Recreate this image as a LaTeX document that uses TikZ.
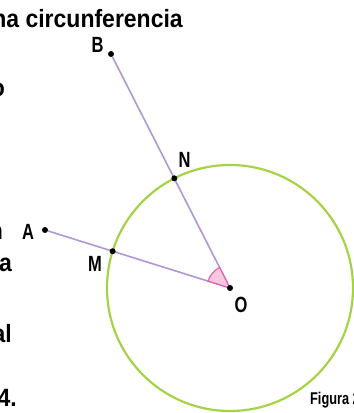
\documentclass[tikz,border=0pt]{standalone}
\usepackage{fontspec}
\setmainfont{Liberation Sans}
\newfontfamily\narrowfont[FakeStretch=0.75]{Liberation Sans}
\newfontfamily\pagefont[FakeStretch=0.92]{Liberation Sans}
\usetikzlibrary{positioning,calc}
\definecolor{rayline}{RGB}{175,150,215}
\definecolor{ringgreen}{RGB}{165,210,70}
\definecolor{anglepink}{RGB}{232,90,170}
\definecolor{anglefill}{RGB}{248,200,225}
\pgfdeclarelayer{back}
\pgfsetlayers{back,main}

\begin{document}
\begin{tikzpicture}[x=1pt, y=1pt,
    dot/.style={circle, fill=black, inner sep=0pt, minimum size=6pt},
    lbl/.style={inner sep=0pt, font=\narrowfont\bfseries\fontsize{22}{26}\selectfont},
    para/.style={inner sep=0pt, font=\pagefont\bfseries\fontsize{25}{29}\selectfont},
    figcap/.style={inner sep=0pt, font=\narrowfont\bfseries\fontsize{17}{20}\selectfont},
    ray/.style={rayline, line width=1.6pt},
    ring/.style={ringgreen, line width=2.2pt},
    anglemark/.style={anglepink, fill=anglefill, line width=1.1pt}]
  \useasboundingbox (0,0) rectangle (354,413);
  \clip (0,0) rectangle (354,413);

  % points
  \node[dot] (O) at (230,125) {};
  \node[dot] (B) at (111,359) {};
  \node[dot] (A) at (45,183) {};
  \node[dot] (N) at ($(O)+(116.9:123pt)$) {};
  \node[dot] (M) at ($(O)+(162.6:123pt)$) {};

  \node[lbl] (Blbl) at (97.5,368.5) {B};
  \node[lbl] (Nlbl) at (184.5,253.5) {N};
  \node[lbl] (Albl) at (28,181.5) {A};
  \node[lbl] (Mlbl) at (95,149) {M};
  \node[lbl] (Olbl) at (241,108) {O};

  \begin{pgfonlayer}{back}
    \draw[ring] (O.center) circle[radius=123pt];
    \draw[ray] (O) -- (B);
    \draw[ray] (O) -- (A);
    \filldraw[anglemark] (O.center) -- ++(116.9:23pt) arc[start angle=116.9, end angle=162.6, radius=23pt] -- cycle;
  \end{pgfonlayer}

  % text around the figure
  \node[para, anchor=base east] (title) at (183,385) {na circunferencia};
  \node[para, anchor=base east] (frag1) at (5,316) {o};
  \node[para, anchor=base east] (frag2) at (3,173) {n};
  \node[para, anchor=base east] (frag3) at (12,141) {a};
  \node[para, anchor=base east] (frag4) at (12,70) {al};
  \node[para, anchor=base east] (frag5) at (17,6) {4.};
  \node[figcap, anchor=base west] (fig) at (310,9) {Figura 2};
\end{tikzpicture}
\end{document}
